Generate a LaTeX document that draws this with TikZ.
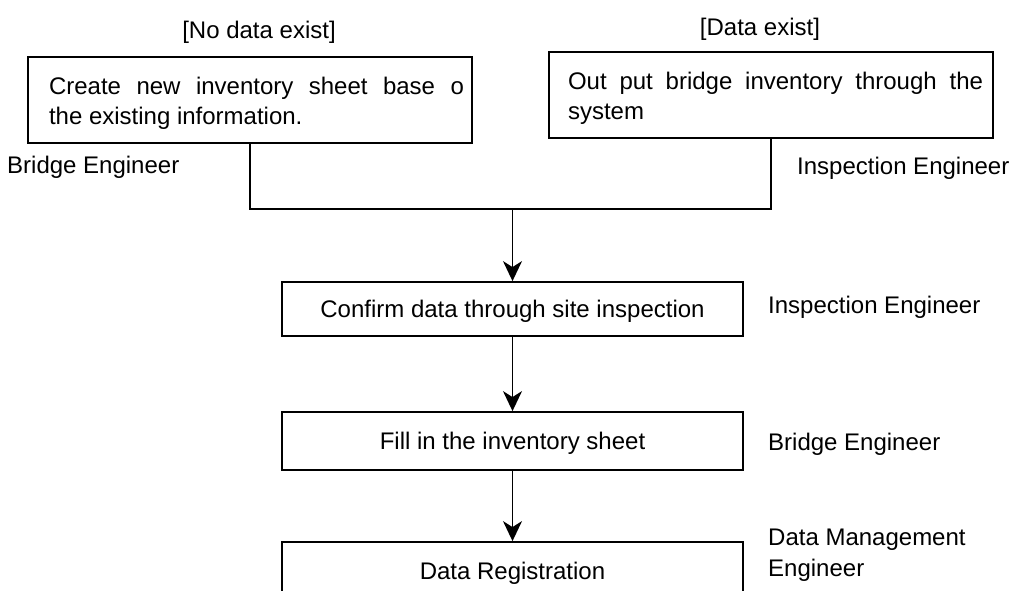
\documentclass[tikz,border=0pt]{standalone}
\usepackage{fontspec}
\setmainfont{Liberation Sans}
\usetikzlibrary{arrows.meta}

\tikzset{
  stepbox/.style={draw, line width=1.8pt, inner sep=0pt, rectangle,
    font=\fontsize{24}{30}\selectfont},
  topbox/.style={stepbox, minimum width=444pt, minimum height=86pt},
  boxtext/.style={inner sep=0pt, text width=415pt, align=justify,
    font=\fontsize{24}{30}\selectfont},
  flowbox/.style={stepbox, minimum width=461pt, align=center,
    text height=17pt, text depth=0pt},
  role/.style={inner sep=0pt, anchor=base west, font=\fontsize{24}{31}\selectfont},
  cond/.style={inner sep=0pt, anchor=base, font=\fontsize{24}{30}\selectfont},
  link/.style={line width=1.5pt},
  flow/.style={link, -{Stealth[length=20pt, width=19pt, inset=6pt]}},
}

\begin{document}
\begin{tikzpicture}[x=1pt, y=-1pt]
  \useasboundingbox (0,0) rectangle (1010,590);
  \clip (0,0) rectangle (1010,590);

  % branch conditions
  \node[cond] (nodata) at (259,38) {[No data exist]};
  \node[cond] (hasdata) at (760,35) {[Data exist]};

  % two starting branches
  \node[topbox] (create) at (250,100) {};
  \node[boxtext] (createtxt) at (256.5,103)
    {Create new inventory sheet base o\linebreak the existing information.};
  \node[topbox] (output) at (771,95) {};
  \node[boxtext] (outputtxt) at (775.5,98)
    {Out put bridge inventory through the\linebreak system};

  % main flow
  \node[flowbox, minimum height=54pt] (confirm) at (512.5,309)
    {Confirm data through site inspection};
  \node[flowbox, minimum height=58pt] (fill) at (512.5,441)
    {Fill in the inventory sheet};
  \node[flowbox, minimum height=58pt] (register) at (512.5,571)
    {Data Registration};

  % responsible roles
  \node[role] (roleA) at (7,173) {Bridge Engineer};
  \node[role] (roleB) at (797,174) {Inspection Engineer};
  \node[role] (roleC) at (768,313) {Inspection Engineer};
  \node[role] (roleD) at (768,450) {Bridge Engineer};
  \node[role, anchor=north west, align=left] (roleE) at (768,529)
    {Data Management\\Engineer};

  % connectors
  \coordinate (join) at (512.5,209);
  \draw[link] (create.south) |- (join) -| (output.south);
  \draw[flow] (join) -- (confirm.north);
  \draw[flow] (confirm.south) -- (fill.north);
  \draw[flow] (fill.south) -- (register.north);
\end{tikzpicture}
\end{document}
